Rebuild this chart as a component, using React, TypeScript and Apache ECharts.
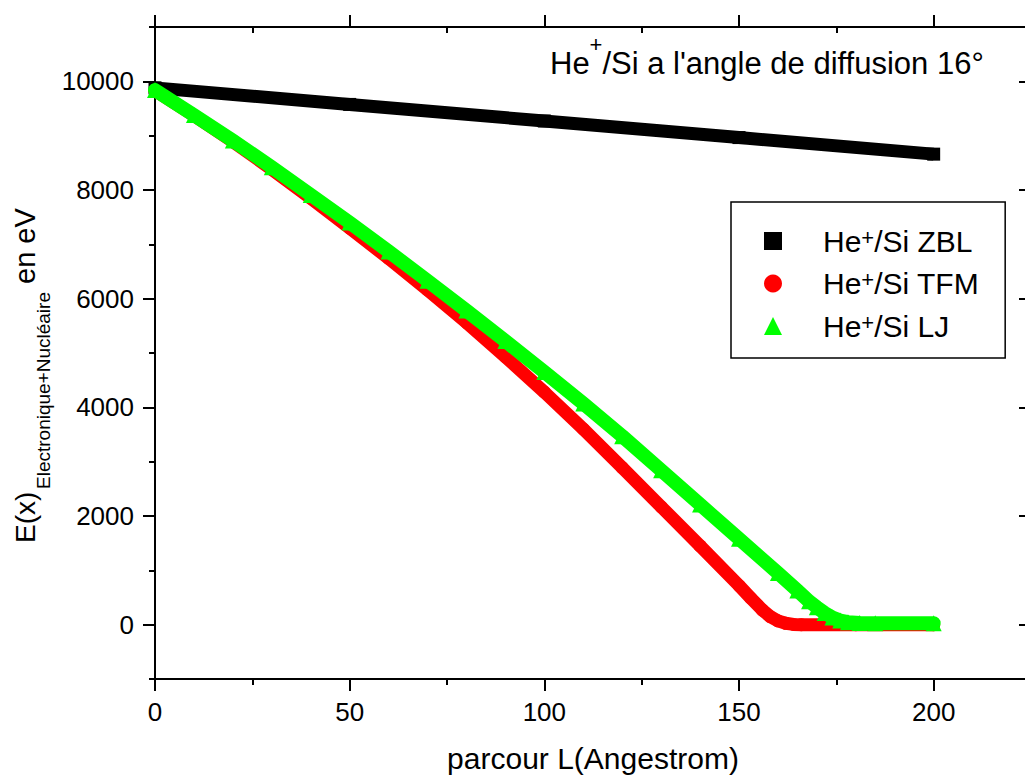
import { useEffect, useRef } from 'react';
import * as echarts from 'echarts';

const FONT = "'Liberation Sans', Arial, Helvetica, sans-serif";

const seriesNames = ['He+/Si ZBL', 'He+/Si TFM', 'He+/Si LJ'];
const seriesColors = ['#000000', '#ff0000', '#00ff00'];
const seriesSymbols = ['rect', 'circle', 'triangle'];

// He+/Si ZBL
const zblL = [0, 50, 100, 150, 200];
const zblE = [9880, 9575, 9270, 8965, 8660];

// He+/Si TFM
const tfmL = [0, 10, 20, 30, 40, 50, 60, 70, 80, 90, 100, 110, 120, 130, 140, 150, 153, 156, 158, 160, 162, 164, 166, 180, 200];
const tfmE = [9830, 9370, 8890, 8380, 7850, 7300, 6740, 6160, 5560, 4930, 4280, 3600, 2890, 2170, 1450, 720, 490, 270, 150, 70, 25, 5, 0, 0, 0];

// He+/Si LJ
const ljL = [0, 10, 20, 30, 40, 50, 60, 70, 80, 90, 100, 110, 120, 130, 140, 150, 160, 165, 168, 170, 172, 174, 176, 178, 181, 185, 200];
const ljE = [9840, 9380, 8910, 8420, 7910, 7400, 6870, 6330, 5780, 5220, 4650, 4070, 3470, 2840, 2210, 1580, 950, 630, 430, 320, 215, 130, 75, 45, 30, 25, 25];

const xMajorTicks = [0, 50, 100, 150, 200];
const xMinorTicks = [25, 75, 125, 175, 225];
const yMajorTicks = [0, 2000, 4000, 6000, 8000, 10000];
const yMinorTicks = [-1000, 1000, 3000, 5000, 7000, 9000, 11000];

const xTitle = 'parcour L(Angestrom)';
const yTitleMain = 'E(x)';
const yTitleSub = 'Electronique+Nucléaire';
const yTitleUnit = 'en eV';
const plotTitleA = 'He';
const plotTitleSup = '+';
const plotTitleB = "/Si a l'angle de diffusion 16°";

const X_MIN = 0, X_MAX = 225, Y_MIN = -1000, Y_MAX = 11000;

const lineSt = { color: '#000', width: 2 };

function xAx(position: string, opts: any) {
  return {
    type: 'value', position, min: X_MIN, max: X_MAX, gridIndex: 0,
    axisLine: { show: false, onZero: false, lineStyle: lineSt },
    axisTick: { show: false },
    axisLabel: { show: false },
    splitLine: { show: false },
    minorTick: { show: false },
    ...opts,
  };
}
function yAx(position: string, opts: any) {
  return {
    type: 'value', position, min: Y_MIN, max: Y_MAX, gridIndex: 0,
    axisLine: { show: false, onZero: false, lineStyle: lineSt },
    axisTick: { show: false },
    axisLabel: { show: false },
    splitLine: { show: false },
    minorTick: { show: false },
    ...opts,
  };
}

export default function App() {
  const ref = useRef<HTMLDivElement>(null);
  useEffect(() => {
    if (!ref.current) return;
    const chart = echarts.init(ref.current, undefined, { renderer: 'svg' });
    const pairs = (a: number[], b: number[]) => a.map((v, i) => [v, b[i]]);
    const datasets = [pairs(zblL, zblE), pairs(tfmL, tfmE), pairs(ljL, ljE)];
    const symSizes = [13, 13, 16];
    const widths = [13, 13, 14];
    const caps = ['butt', 'round', 'round'];
    const plain = (v: number) => String(v);

    const option: any = {
      animation: false,
      backgroundColor: '#fff',
      textStyle: { fontFamily: FONT, color: '#000' },
      grid: { left: 155, top: 27, width: 876, height: 652, containLabel: false, outerBoundsMode: 'none' },
      xAxis: [
        xAx('bottom', {
          axisLine: { show: true, onZero: false, lineStyle: lineSt },
          axisTick: { show: true, length: 12, customValues: xMajorTicks, lineStyle: lineSt },
          axisLabel: { show: true, customValues: xMajorTicks, formatter: plain, fontSize: 26, color: '#000', margin: 20, fontFamily: FONT },
          name: xTitle, nameLocation: 'middle', nameGap: 64,
          nameTextStyle: { fontSize: 30, color: '#000', fontFamily: FONT },
        }),
        xAx('bottom', { axisTick: { show: true, length: 6, customValues: xMinorTicks, lineStyle: lineSt } }),
        xAx('top', {
          axisLine: { show: true, onZero: false, lineStyle: lineSt },
          axisTick: { show: true, length: 12, customValues: xMajorTicks, lineStyle: lineSt },
        }),
        xAx('top', { axisTick: { show: true, inside: true, length: 6, customValues: xMinorTicks, lineStyle: lineSt } }),
      ],
      yAxis: [
        yAx('left', {
          axisLine: { show: true, onZero: false, lineStyle: lineSt },
          axisTick: { show: true, length: 12, customValues: yMajorTicks, lineStyle: lineSt },
          axisLabel: { show: true, customValues: yMajorTicks, formatter: plain, fontSize: 26, color: '#000', margin: 21, fontFamily: FONT },
        }),
        yAx('left', { axisTick: { show: true, length: 6, customValues: yMinorTicks, lineStyle: lineSt } }),
        yAx('right', {
          axisLine: { show: true, onZero: false, lineStyle: lineSt },
          axisTick: { show: true, inside: true, length: 12, customValues: yMajorTicks, lineStyle: lineSt },
        }),
        yAx('right', { axisTick: { show: true, inside: true, length: 6, customValues: yMinorTicks, lineStyle: lineSt } }),
      ],
      legend: {
        show: true,
        orient: 'vertical',
        left: 731,
        top: 202,
        padding: [24, 26, 17, 33],
        itemGap: 12.5,
        itemWidth: 18,
        itemHeight: 18,
        borderColor: '#000',
        borderWidth: 1.5,
        backgroundColor: '#fff',
        selectedMode: false,
        itemStyle: { borderWidth: 0 },
        data: seriesNames.map((n, i) => ({ name: n, icon: seriesSymbols[i] })),
        formatter: (n: string) => `{a|He}{s|+}{a|${n.slice(3)}}`,
        textStyle: {
          fontSize: 30, color: '#000', fontFamily: FONT, padding: [0, 0, 0, 36],
          rich: {
            a: { fontSize: 30, lineHeight: 30, color: '#000', fontFamily: FONT },
            s: { fontSize: 22, lineHeight: 22, verticalAlign: 'top', color: '#000', fontFamily: FONT },
          },
        },
      },
      series: seriesNames.map((n, i) => ({
        type: 'line',
        name: n,
        data: datasets[i],
        xAxisIndex: 0,
        yAxisIndex: 0,
        z: 2 + i,
        symbol: seriesSymbols[i],
        symbolSize: symSizes[i],
        showSymbol: true,
        silent: true,
        emphasis: { disabled: true },
        lineStyle: { color: seriesColors[i], width: widths[i], cap: caps[i], join: 'round' },
        itemStyle: { color: seriesColors[i], borderWidth: 0 },
      })),
      graphic: [
        { type: 'text', x: 550, y: 63.3, silent: true, style: { text: plotTitleA, fontSize: 31, fontFamily: FONT, fill: '#000', align: 'left', verticalAlign: 'middle' } },
        { type: 'text', x: 589.6, y: 44, silent: true, style: { text: plotTitleSup, fontSize: 22, fontFamily: FONT, fill: '#000', align: 'left', verticalAlign: 'middle' } },
        { type: 'text', x: 602.4, y: 63.3, silent: true, style: { text: plotTitleB, fontSize: 31, fontFamily: FONT, fill: '#000', align: 'left', verticalAlign: 'middle' } },
        { type: 'text', x: 25, y: 543, rotation: Math.PI / 2, silent: true, style: { text: yTitleMain, fontSize: 28, fontFamily: FONT, fill: '#000', align: 'left', verticalAlign: 'middle' } },
        { type: 'text', x: 43.5, y: 489, rotation: Math.PI / 2, silent: true, style: { text: yTitleSub, fontSize: 19, fontFamily: FONT, fill: '#000', align: 'left', verticalAlign: 'middle' } },
        { type: 'text', x: 25, y: 284, rotation: Math.PI / 2, silent: true, style: { text: yTitleUnit, fontSize: 29, fontFamily: FONT, fill: '#000', align: 'left', verticalAlign: 'middle' } },
      ],
    };
    chart.setOption(option);
    return () => chart.dispose();
  }, []);
  return (
    <div
      ref={ref}
      style={{ position: 'fixed', left: 0, top: 0, width: 1025, height: 776, background: '#fff' }}
    />
  );
}
